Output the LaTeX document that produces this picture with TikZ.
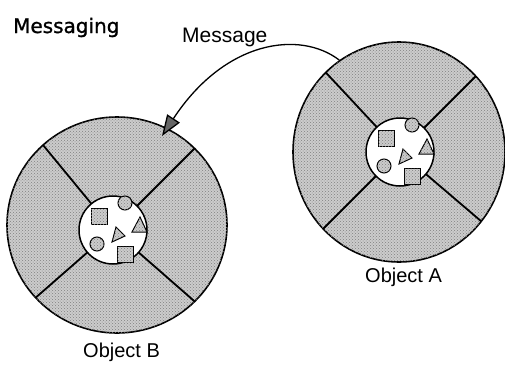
\documentclass[tikz,border=0pt]{standalone}
\usepackage{fontspec}
\setmainfont{Liberation Sans}
\newfontfamily\dejavu[FakeBold=1.2]{DejaVu Sans}
\usetikzlibrary{patterns,arrows.meta,shapes.geometric}
\tikzset{
  halftone/.style={fill=gray!40, postaction={pattern=crosshatch dots, pattern color=black!50}},
  rim/.style={draw=black, line width=1.6pt, halftone, ellipse, inner sep=0pt},
  spoke/.style={draw=black, line width=1.8pt},
  hub/.style={draw=black, line width=1.5pt, fill=white, circle, inner sep=0pt, minimum size=68pt},
  bit/.style={draw=black, line width=1pt, halftone},
  lbl/.style={inner sep=0pt, anchor=base west},
  msg/.style={-{Triangle[length=21pt,width=15pt,fill=black!60]}, line width=1.3pt},
  contents/.pic={
    \draw[bit] (-22,-22) rectangle (-6,-6);
    \draw[bit] (12,-27) circle[radius=7pt];
    \draw[bit] (19,2) -- (34,2) -- (27,-13) -- cycle;
    \draw[bit] (-1,12) -- (12,6) -- (3,-3) -- cycle;
    \draw[bit] (-16,14) circle[radius=7pt];
    \draw[bit] (4,16) rectangle (20,32);
  }
}
\begin{document}
\begin{tikzpicture}[x=1pt,y=-1pt]
\useasboundingbox (0,0) rectangle (505,364);
% Object A
\node[rim, minimum width=212pt, minimum height=220pt] (A) at (399,152) {};
\coordinate (Ac) at (400,152);
\begin{scope}
  \clip (399,152) ellipse [x radius=106pt, y radius=110pt];
  \draw[spoke] (Ac) -- ++(-140,-150);
  \draw[spoke] (Ac) -- ++(150,-150);
  \draw[spoke] (Ac) -- ++(-150,150);
  \draw[spoke] (Ac) -- ++(170,145);
\end{scope}
\node[hub] (Ahub) at (Ac) {};
\pic at (Ahub.center) {contents};
% Object B
\node[rim, minimum width=220pt, minimum height=216pt] (B) at (117,225) {};
\coordinate (Bc) at (113,230);
\begin{scope}
  \clip (117,225) ellipse [x radius=110pt, y radius=108pt];
  \draw[spoke] (Bc) -- ++(-140,-170);
  \draw[spoke] (Bc) -- ++(160,-160);
  \draw[spoke] (Bc) -- ++(-160,140);
  \draw[spoke] (Bc) -- ++(160,140);
\end{scope}
\node[hub] (Bhub) at (Bc) {};
\pic at (Bhub.center) {contents};
% labels
\node[lbl, font=\dejavu\fontsize{20}{24}\selectfont] (title) at (13,33) {Messaging};
\node[lbl, font=\fontsize{21}{25}\selectfont] (msglbl) at (182,42) {Message};
\node[lbl, font=\fontsize{20}{24}\selectfont] (Albl) at (365,282) {Object A};
\node[lbl, font=\fontsize{20}{24}\selectfont] (Blbl) at (83,357) {Object B};
% message arrow
\coordinate (tip) at (162,136);
\draw[msg] (A.123) .. controls (300,30) and (225,40) .. (tip);
\end{tikzpicture}
\end{document}
